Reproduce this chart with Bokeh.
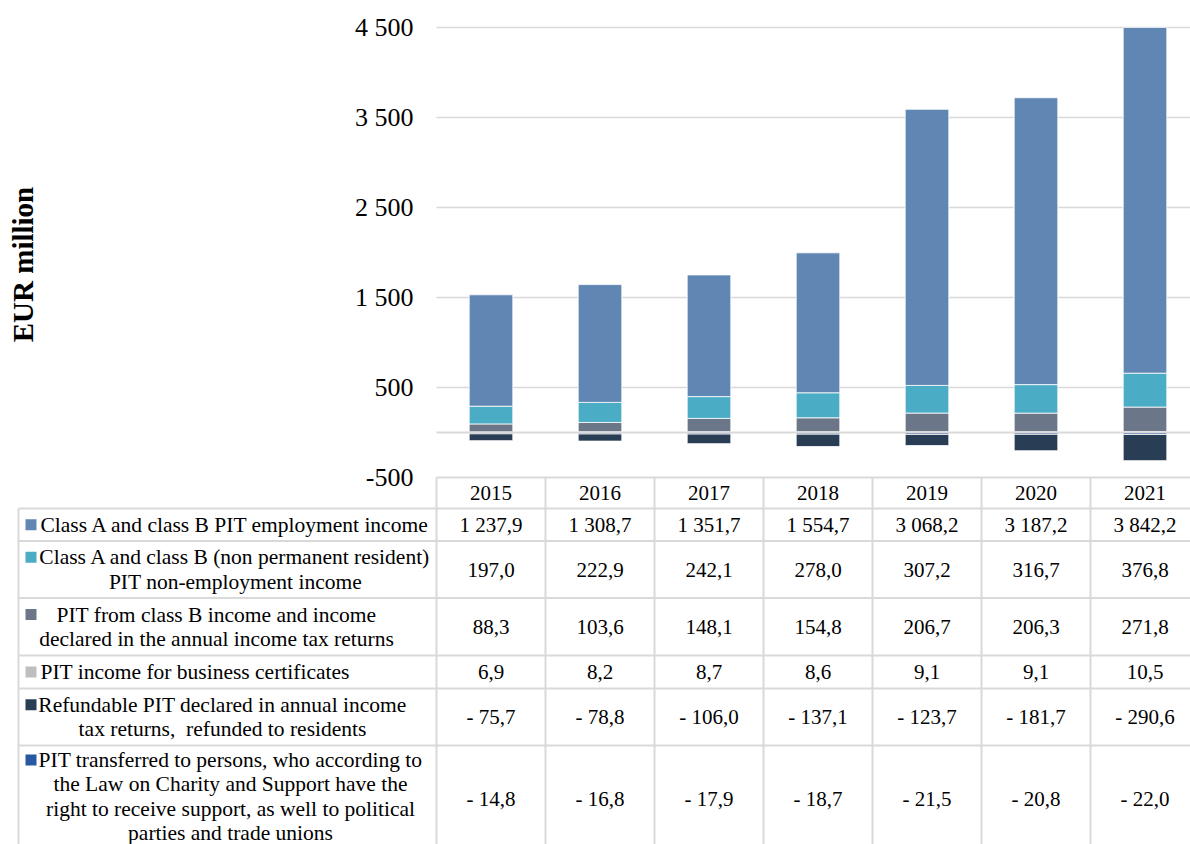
import numpy as np
from bokeh.plotting import figure
from bokeh.models import Range1d
from bokeh.core.properties import value
from bokeh.embed import file_html
from bokeh.resources import INLINE

# ---- data (EUR million) ----
years = ["2015", "2016", "2017", "2018", "2019", "2020", "2021"]
employment = [1237.9, 1308.7, 1351.7, 1554.7, 3068.2, 3187.2, 3842.2]
non_employment = [197.0, 222.9, 242.1, 278.0, 307.2, 316.7, 376.8]
class_b_returns = [88.3, 103.6, 148.1, 154.8, 206.7, 206.3, 271.8]
business_certificates = [6.9, 8.2, 8.7, 8.6, 9.1, 9.1, 10.5]
refundable = [-75.7, -78.8, -106.0, -137.1, -123.7, -181.7, -290.6]
transferred = [-14.8, -16.8, -17.9, -18.7, -21.5, -20.8, -22.0]

y_ticks = [-500, 500, 1500, 2500, 3500, 4500]

series_labels = [
    ["Class A and class B PIT employment income"],
    ["Class A and class B (non permanent resident)", "PIT non-employment income"],
    ["PIT from class B income and income", "declared in the annual income tax returns"],
    ["PIT income for business certificates"],
    ["Refundable PIT declared in annual income", "tax returns,\u00a0 refunded to residents"],
    ["PIT transferred to persons, who according to",
     "the Law on Charity and Support have the",
     "right to receive support, as well to political",
     "parties and trade unions"],
]

# ---- styling ----
COLORS = ["#6087b3", "#4bacc6", "#6b7788", "#bfbfbf", "#293d54", "#2957a4"]
GRID = "#d9d9d9"
FONT = value("Liberation Serif")
W, H = 1190, 844

# plot frame: x in category units (one unit per year), y in EUR million
X0_PX, COL_PX = 436, 109
ZERO_PX, PX_PER_UNIT = 432.0, 0.09
x_lo = -X0_PX / COL_PX
x_hi = (W - X0_PX) / COL_PX
y_hi = ZERO_PX / PX_PER_UNIT
y_lo = -(H - ZERO_PX) / PX_PER_UNIT

p = figure(width=W, height=H, x_range=Range1d(x_lo, x_hi), y_range=Range1d(y_lo, y_hi),
           output_backend="svg", toolbar_location=None, x_axis_type=None, y_axis_type=None,
           min_border=0, outline_line_color=None)
p.background_fill_color = "white"
p.border_fill_color = "white"
# pixel-space ranges used for the data table underneath the bars
p.extra_x_ranges = {"px": Range1d(0, W)}
p.extra_y_ranges = {"px": Range1d(H, 0)}

n = len(years)
xc = np.arange(n) + 0.5

# horizontal gridlines
gy = [t for t in y_ticks if t != -500]
p.segment(x0=[0] * len(gy), x1=[x_hi] * len(gy), y0=gy, y1=gy, line_color=GRID, line_width=1.5)

# stacked bars: positives upward from zero, negatives downward from zero
positives = [employment, non_employment, class_b_returns, business_certificates]
pos_colors = [COLORS[0], COLORS[1], COLORS[2], COLORS[3]]
base = np.zeros(n)
for vals, col in zip(positives[::-1], pos_colors[::-1]):
    v = np.array(vals)
    p.vbar(x=xc, width=0.4, bottom=base, top=base + v, fill_color=col,
           line_color="white", line_width=0.8)
    base = base + v

negatives = [transferred, refundable]
neg_colors = [COLORS[5], COLORS[4]]
base = np.zeros(n)
for vals, col in zip(negatives, neg_colors):
    v = np.array(vals)
    p.vbar(x=xc, width=0.4, top=base, bottom=base + v, fill_color=col,
           line_color="white", line_width=0.8)
    base = base + v

# zero line drawn over the bars
p.segment(x0=[0], x1=[x_hi], y0=[0], y1=[0], line_color=GRID, line_width=2)

# y tick labels
def fmt_tick(t):
    return f"{t:,}".replace(",", " ")

p.text(x=[(413 - X0_PX) / COL_PX] * len(y_ticks), y=y_ticks,
       text=[fmt_tick(t) for t in y_ticks], text_align="right", text_baseline="middle",
       text_font=FONT, text_font_size="26px", text_color="black")

# axis title
p.text(x=[22], y=[264], text=["EUR million"], angle=np.pi / 2, text_align="center",
       text_baseline="middle", text_font=FONT, text_font_size="29px",
       text_font_style="bold", text_color="black",
       x_range_name="px", y_range_name="px")

# ---- data table ----
TOP_PX, HEAD_PX = 477, 508
row_edges = [508, 540.5, 597.5, 655, 688, 745, 847]
LABEL_LEFT = 18

# vertical rules (year columns)
p.segment(x0=list(range(n + 1)), x1=list(range(n + 1)), y0=[TOP_PX] * (n + 1), y1=[H] * (n + 1),
          line_color=GRID, line_width=2, y_range_name="px")
# left border of the label column
p.segment(x0=[LABEL_LEFT], x1=[LABEL_LEFT], y0=[HEAD_PX], y1=[H], line_color=GRID, line_width=2,
          x_range_name="px", y_range_name="px")
# header top rule
p.segment(x0=[X0_PX], x1=[W], y0=[TOP_PX], y1=[TOP_PX], line_color=GRID, line_width=2,
          x_range_name="px", y_range_name="px")
# row rules
hr = row_edges[:-1]
p.segment(x0=[LABEL_LEFT] * len(hr), x1=[W] * len(hr), y0=hr, y1=hr, line_color=GRID,
          line_width=2, x_range_name="px", y_range_name="px")

# header years
p.text(x=xc, y=[(TOP_PX + HEAD_PX) / 2] * n, text=years, text_align="center",
       text_baseline="middle", text_font=FONT, text_font_size="21px", text_color="black",
       y_range_name="px")

def fmt_val(v):
    s = f"{abs(v):,.1f}".replace(",", " ").replace(".", ",")
    return "- " + s if v < 0 else s

table_series = [employment, non_employment, class_b_returns, business_certificates,
                refundable, transferred]
LINE_H = 24.3
label_center = [None, 235, 216, None, 222, 230]
for i, (vals, lines) in enumerate(zip(table_series, series_labels)):
    top, bot = row_edges[i], row_edges[i + 1]
    yc = (top + bot) / 2
    vy = yc if i < 5 else 798
    p.text(x=xc, y=[vy] * n, text=[fmt_val(v) for v in vals], text_align="center",
           text_baseline="middle", text_font=FONT, text_font_size="21px", text_color="black",
           y_range_name="px")
    ys = [yc + (k - (len(lines) - 1) / 2) * LINE_H for k in range(len(lines))]
    if label_center[i] is None:
        p.text(x=[40] * len(lines), y=ys, text=lines, text_align="left",
               text_baseline="middle", text_font=FONT, text_font_size="21.5px",
               text_color="black", x_range_name="px", y_range_name="px")
    else:
        p.text(x=[label_center[i]] * len(lines), y=ys, text=lines, text_align="center",
               text_baseline="middle", text_font=FONT, text_font_size="21.5px",
               text_color="black", x_range_name="px", y_range_name="px")
    # legend key
    p.rect(x=[30.5], y=[ys[0]], width=11, height=11, fill_color=COLORS[i], line_color=None,
           x_range_name="px", y_range_name="px")

open("out.html", "w").write(file_html(p, INLINE))
